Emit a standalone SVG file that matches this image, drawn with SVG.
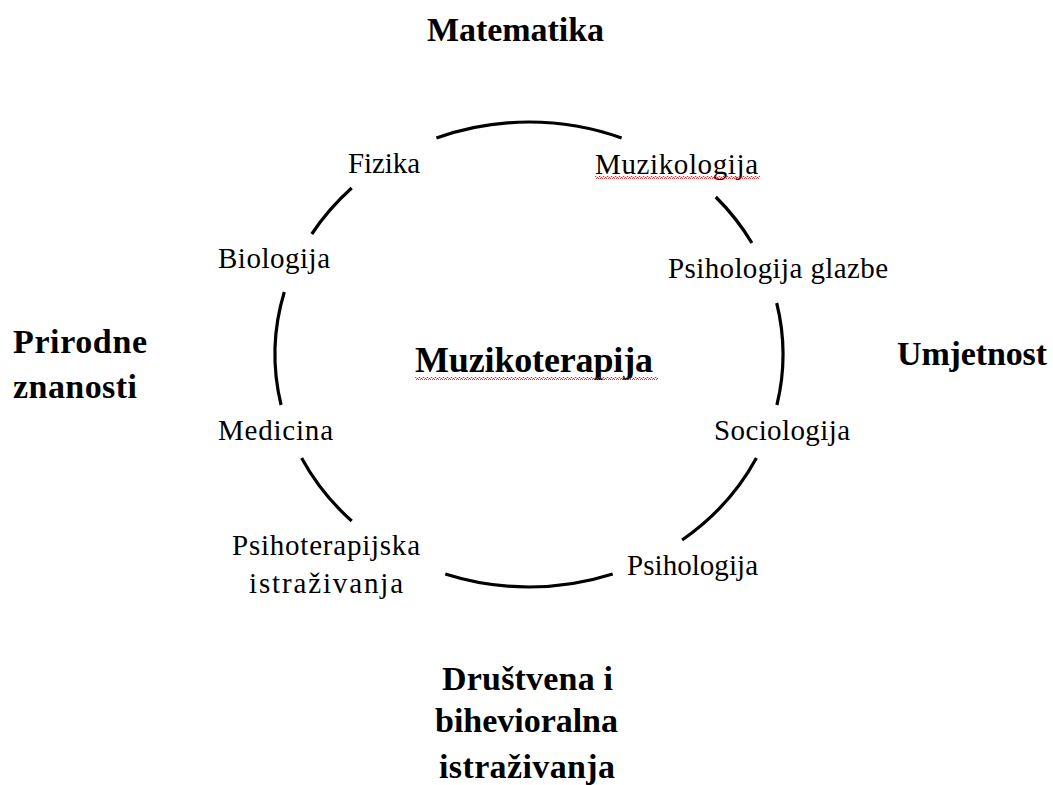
<svg xmlns="http://www.w3.org/2000/svg" width="1053" height="785" viewBox="0 0 1053 785">
<defs>
<pattern id="squiggle" x="0" y="0" width="4" height="3" patternUnits="userSpaceOnUse">
<path d="M0,2.5 L1,0.5 L2,0.5 L3,2.5 L4,2.5" fill="none" stroke="#e02020" stroke-width="0.9"/>
</pattern>
</defs>
<style>
.arc{fill:none;stroke:#000;stroke-width:3.2;stroke-linecap:butt}
.lbl{font-family:"Liberation Serif","Times New Roman",serif;font-size:29px;fill:#000}
.big{font-family:"Liberation Serif","Times New Roman",serif;font-size:34px;font-weight:bold;fill:#000}
.center{font-family:"Liberation Serif","Times New Roman",serif;font-size:36px;font-weight:bold;fill:#000}
</style>
<rect width="1053" height="785" fill="#fff"/>
<g id="connectors">
<path class="arc" d="M436.4,138 A254,232.5 0 0 1 621.6,138"/>
<path class="arc" d="M715.8,197 A254,232.5 0 0 1 751.9,243"/>
<path class="arc" d="M776.7,303 A254,232.5 0 0 1 776.9,405"/>
<path class="arc" d="M756.4,458 A254,232.5 0 0 1 682.1,540"/>
<path class="arc" d="M612.7,574 A254,232.5 0 0 1 445.3,574"/>
<path class="arc" d="M351.7,521 A254,232.5 0 0 1 301.6,458"/>
<path class="arc" d="M281.1,405 A254,232.5 0 0 1 284.3,292"/>
<path class="arc" d="M311.8,234 A254,232.5 0 0 1 351.7,188"/>
</g>
<g id="center-node">
<text class="center" x="415" y="372" textLength="238">Muzikoterapija</text>
<rect x="415" y="377" width="243" height="3" fill="url(#squiggle)"/>
</g>
<g id="node-fizika"><text class="lbl" x="348" y="173" textLength="72">Fizika</text></g>
<g id="node-muzikologija">
<text class="lbl" x="595" y="174" textLength="163">Muzikologija</text>
<rect x="595" y="176" width="165" height="3" fill="url(#squiggle)"/>
</g>
<g id="node-psihologija-glazbe"><text class="lbl" x="668" y="278" textLength="220">Psihologija glazbe</text></g>
<g id="node-sociologija"><text class="lbl" x="714" y="440" textLength="136">Sociologija</text></g>
<g id="node-psihologija"><text class="lbl" x="627" y="575" textLength="131">Psihologija</text></g>
<g id="node-psihoterapijska">
<text class="lbl" x="232" y="555" textLength="188">Psihoterapijska</text>
<text class="lbl" x="249" y="593" textLength="154">istraživanja</text>
</g>
<g id="node-medicina"><text class="lbl" x="218" y="440" textLength="115">Medicina</text></g>
<g id="node-biologija"><text class="lbl" x="218" y="268" textLength="112">Biologija</text></g>
<g id="area-matematika"><text class="big" x="427" y="41" textLength="177">Matematika</text></g>
<g id="area-umjetnost"><text class="big" x="897" y="365" textLength="150">Umjetnost</text></g>
<g id="area-prirodne">
<text class="big" x="13" y="353" textLength="134">Prirodne</text>
<text class="big" x="13" y="398" textLength="124">znanosti</text>
</g>
<g id="area-drustvena">
<text class="big" x="442" y="690" textLength="171">Društvena i</text>
<text class="big" x="435" y="732" textLength="183">bihevioralna</text>
<text class="big" x="439" y="778" textLength="176">istraživanja</text>
</g>
</svg>
